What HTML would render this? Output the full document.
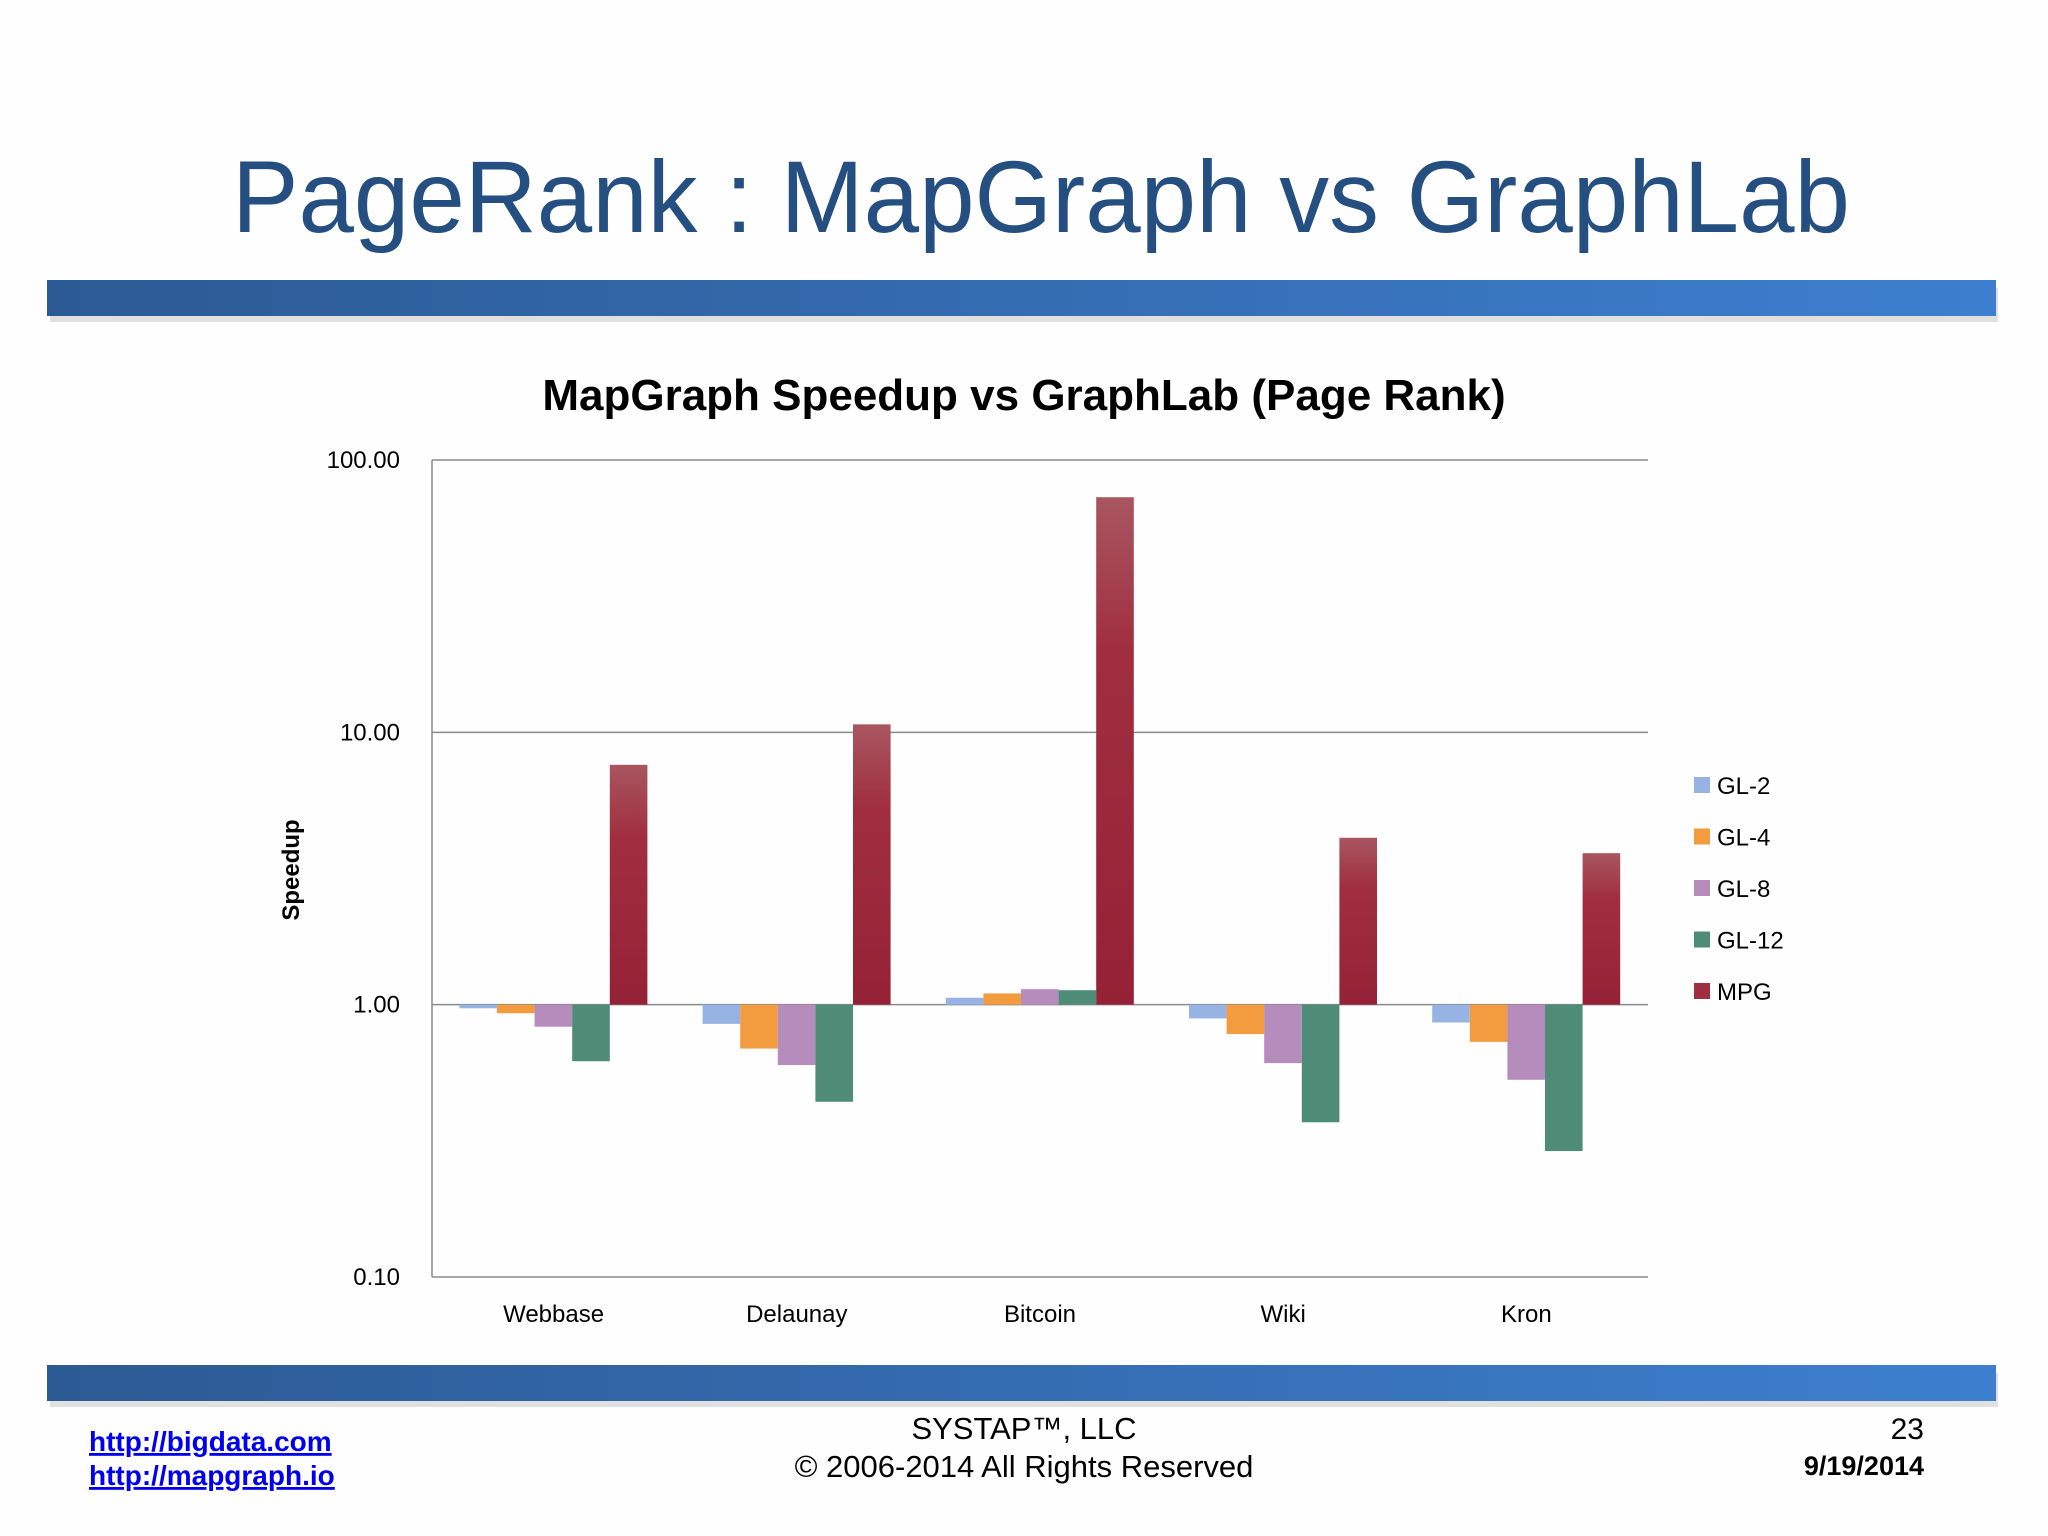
<!DOCTYPE html>
<html><head><meta charset="utf-8"><style>
html,body{margin:0;padding:0;background:#fff}
svg{display:block}
text{font-family:"Liberation Sans",sans-serif}
</style></head><body>
<svg id="chart" width="2048" height="1536" viewBox="0 0 2048 1536">
<defs>
<linearGradient id="bar" x1="0" x2="1"><stop offset="0" stop-color="#2c5a94"/><stop offset="1" stop-color="#3d7fcf"/></linearGradient>
<linearGradient id="mpg" x1="0" x2="0" y1="0" y2="1"><stop offset="0" stop-color="#a85660"/><stop offset="0.3" stop-color="#a02e40"/><stop offset="1" stop-color="#952136"/></linearGradient>
</defs>
<rect width="2048" height="1536" fill="#fefefe"/>
<text x="232" y="232" font-size="102" fill="#244f80" textLength="1618" lengthAdjust="spacingAndGlyphs">PageRank : MapGraph vs GraphLab</text>
<rect x="50" y="288" width="1948" height="34" fill="#ccc" opacity="0.6"/>
<rect x="47" y="280" width="1949" height="36" fill="url(#bar)"/>
<rect x="50" y="1373" width="1948" height="34" fill="#ccc" opacity="0.6"/>
<rect x="47" y="1365" width="1949" height="36" fill="url(#bar)"/>
<text x="1024" y="410" text-anchor="middle" font-size="44" font-weight="bold" fill="#000">MapGraph Speedup vs GraphLab (Page Rank)</text>
<text transform="translate(299,870) rotate(-90)" text-anchor="middle" font-size="24" font-weight="bold">Speedup</text>
<g id="plot"></g>
<text x="89" y="1451" font-size="28" font-weight="bold" fill="#0000ee" text-decoration="underline">http://bigdata.com</text>
<text x="89" y="1485" font-size="28" font-weight="bold" fill="#0000ee" text-decoration="underline">http://mapgraph.io</text>
<text x="1024" y="1439" text-anchor="middle" font-size="31">SYSTAP™, LLC</text>
<text x="1024" y="1477" text-anchor="middle" font-size="31">© 2006-2014 All Rights Reserved</text>
<text x="1924" y="1439" text-anchor="end" font-size="30">23</text>
<text x="1924" y="1475" text-anchor="end" font-size="27" font-weight="bold">9/19/2014</text>
</svg>
<script>
const categories=["Webbase","Delaunay","Bitcoin","Wiki","Kron"];
const seriesNames=["GL-2","GL-4","GL-8","GL-12","MPG"];
const gl2=[0.97,0.85,1.06,0.89,0.86];
const gl4=[0.93,0.69,1.10,0.78,0.73];
const gl8=[0.83,0.60,1.14,0.61,0.53];
const gl12=[0.62,0.44,1.13,0.37,0.29];
const mpg=[7.6,10.7,73,4.1,3.6];
const tickValues=[0.1,1,10,100];
const tickLabels=["0.10","1.00","10.00","100.00"];
const colors=["#97b3e4","#f39b3f","#b58cbb","#4f8c78","url(#mpg)"];
const legendColors=["#97b3e4","#f39b3f","#b58cbb","#4f8c78","#a02e40"];
const ns="http://www.w3.org/2000/svg";
const g=document.getElementById('plot');
const L=432,R=1648,T=460,B=1277;
function y(v){return B-(Math.log10(v)-Math.log10(0.1))/3*(B-T);}
const gw=(R-L)/categories.length, off=27.4, bw=37.6;
function x(ci,si){return L+ci*gw+off+si*bw;}
function mk(tag,a){const e=document.createElementNS(ns,tag);for(const k in a)e.setAttribute(k,a[k]);g.appendChild(e);return e;}
tickValues.forEach((v,i)=>{
  const ln=mk('line',{x1:L,x2:R,y1:y(v),y2:y(v),stroke:'#8a8a8a','stroke-width':1.5});
  
  
  const t=mk('text',{x:400,y:y(v)+8,'text-anchor':'end','font-size':24});
  t.textContent=tickLabels[i];
  
  
});
const ax=mk('line',{x1:L,x2:L,y1:T,y2:B,stroke:'#8a8a8a','stroke-width':1.5});


const series=[gl2,gl4,gl8,gl12,mpg];
series.forEach((s,si)=>{
  s.forEach((v,ci)=>{
    const y0=y(1),y1=y(v);
    const r=mk('rect',{x:x(ci,si),y:Math.min(y0,y1),width:bw,height:Math.max(1,Math.abs(y1-y0)),fill:colors[si]});
    
    
  });
});
categories.forEach((c,ci)=>{
  const t=mk('text',{x:L+ci*gw+gw/2,y:1322,'text-anchor':'middle','font-size':24});
  t.textContent=c;
  
  
});
seriesNames.forEach((n,i)=>{
  const yy=785+i*51.5;
  const r=mk('rect',{x:1694,y:yy-8,width:16,height:16,fill:legendColors[i]});
  
  
  const t=mk('text',{x:1717,y:yy+9,'font-size':24});
  t.textContent=n;
  
  
});
</script>
</body></html>
